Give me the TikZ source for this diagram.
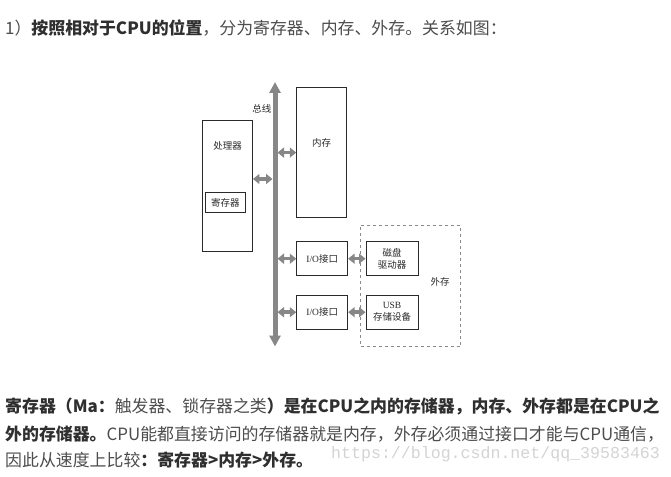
\documentclass[tikz,border=0pt]{standalone}
\usepackage{fontspec}
\setmainfont{Noto Sans CJK SC}
\newfontfamily\lserif{Liberation Serif}
\newfontfamily\lmono{Liberation Mono}
\usetikzlibrary{arrows.meta,calc}
\definecolor{txt}{HTML}{4D4D4D}
\definecolor{boldc}{HTML}{2F2F2F}
\definecolor{arr}{HTML}{878787}
\definecolor{wmc}{HTML}{D4D4D4}
\definecolor{boxc}{HTML}{2A2A2A}
\definecolor{dashc}{HTML}{8A8A8A}
\definecolor{lblc}{HTML}{2A2A2A}
\begin{document}
\begin{tikzpicture}[x=1pt,y=-1pt,
  box/.style={draw=boxc, line width=0.9pt, inner sep=0pt, fill=white,
    font=\fontsize{9.5}{12}\selectfont, text=lblc, align=center},
  lbl/.style={inner sep=0pt, font=\fontsize{9.5}{12}\selectfont, text=lblc},
  bodytext/.style={anchor=west, inner sep=0pt, font=\fontsize{16.9}{20}\selectfont, text=txt},
  dbl/.style={draw=arr, line width=3.5pt,
    {Triangle[width=10pt,length=6.5pt]}-{Triangle[width=10pt,length=6.5pt]}},
  busline/.style={draw=arr, line width=5pt,
    {Triangle[width=11pt,length=11pt]}-{Triangle[width=11pt,length=11pt]}}
]
\useasboundingbox (0,0) rectangle (671,476);
\fill[white] (0,0) rectangle (671,476);

% text lines
\node[bodytext] (l1) at (5,28) {1）\textcolor{boldc}{\textbf{按照相对于CPU的位置}}，分为寄存器、内存、外存。关系如图：};
\node[bodytext] (l2) at (5,406) {\textcolor{boldc}{\textbf{寄存器（Ma：}}触发器、锁存器之类\textcolor{boldc}{\textbf{）是在CPU之内的存储器，内存、外存都是在CPU之}}};
\node[bodytext] (l3) at (5,434) {\textcolor{boldc}{\textbf{外的存储器。}}CPU能都直接访问的存储器就是内存，外存必须通过接口才能与CPU通信，};
\node[bodytext] (l4) at (5,460.5) {因此从速度上比较\textcolor{boldc}{\textbf{：寄存器>内存>外存。}}};
\node[anchor=west, inner sep=0pt, font=\lmono\fontsize{16.6}{18}\selectfont, text=wmc] (wm) at (331,454) {https://blog.csdn.net/qq\_39583463};

% diagram
\node[draw=dashc, dashed, line width=0.8pt, minimum width=100pt, minimum height=121.7pt, inner sep=0pt] (ext) at (410.7,285.85) {};
\node[lbl] (extt) at (440,281.7) {外存};

\node[box, minimum width=50pt, minimum height=131pt] (proc) at (227.5,186) {};
\node[lbl] (proct) at (227.5,145.7) {处理器};
\node[box, minimum width=39.3pt, minimum height=19.6pt] (reg) at (225.3,202.5) {寄存器};

\node[box, minimum width=50pt, minimum height=130pt] (mem) at (321.7,152.6) {};
\node[lbl] (memt) at (321.7,143) {内存};

\node[box, minimum width=51pt, minimum height=34pt] (io1) at (322.2,258.7) {{\lserif I/O}接口};
\node[box, minimum width=51pt, minimum height=34pt] (io2) at (322.2,312.2) {{\lserif I/O}接口};
\node[box, minimum width=52pt, minimum height=34pt] (disk) at (392,258.7) {磁盘\\驱动器};
\node[box, minimum width=52pt, minimum height=34pt] (usb) at (392,312.2) {{\lserif USB}\\存储设备};

% bus
\coordinate (btop) at (275,82);
\coordinate (bbot) at (275,346.5);
\draw[busline] (bbot) -- (btop);
\node[lbl, anchor=east] (bust) at (271.5,109) {总线};
\coordinate (bl) at (272.5,0);
\coordinate (br) at (277.5,0);

% connectors
\draw[dbl] ([yshift=7pt]proc.east) coordinate (pa) -- (bl |- pa);
\draw[dbl] (br |- mem.west) -- (mem.west);
\draw[dbl] (br |- io1.west) -- (io1.west);
\draw[dbl] (br |- io2.west) -- (io2.west);
\draw[dbl] (io1.east) -- (disk.west);
\draw[dbl] (io2.east) -- (usb.west);
\end{tikzpicture}
\end{document}
